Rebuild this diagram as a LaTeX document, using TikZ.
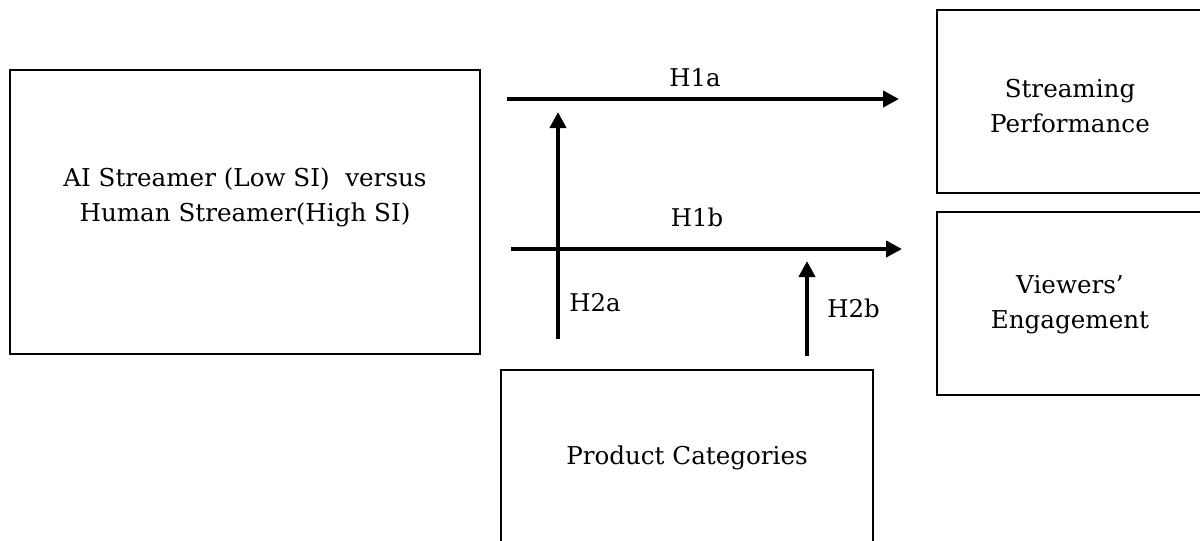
\documentclass[tikz,border=0pt]{standalone}
\usepackage{fontspec}
\setmainfont{DejaVu Serif}
\usetikzlibrary{arrows.meta}
\tikzset{
  box/.style={draw=black, line width=1pt, inner sep=0pt},
  txt/.style={align=center, font=\fontsize{12.3}{17.5}\selectfont, inner sep=0pt},
  lbl/.style={font=\fontsize{12.2}{13}\selectfont, inner sep=0pt},
  arr/.style={line width=2pt, -{Triangle[length=8pt,width=8pt]}},
}
\begin{document}
\begin{tikzpicture}[x=0.5pt,y=-0.5pt]
\useasboundingbox[fill=white] (0,0) rectangle (1200,541);
% boxes
\node[box, minimum width=235pt, minimum height=142pt] (ai) at (245,212) {};
\node[box, minimum width=136.5pt, minimum height=91.5pt] (sp) at (1073.5,101.5) {};
\node[box, minimum width=136.5pt, minimum height=91.5pt] (ve) at (1073.5,303.5) {};
\node[box, minimum width=186pt, minimum height=88pt] (pc) at (687,458) {};
% texts
\node[txt] (aitxt) at (245,197.5) {AI Streamer (Low SI)\ \ versus\\Human Streamer(High SI)};
\node[txt] (sptxt) at (1070,106) {Streaming\\Performance};
\node[txt] (vetxt) at (1070,304.5) {Viewers'\\Engagement};
\node[txt] (pctxt) at (687,458) {Product Categories};
% arrow endpoints
\coordinate (a1s) at (507,99);
\coordinate (a1e) at (899,99);
\coordinate (b1s) at (511,249);
\coordinate (b1e) at (902,249);
\coordinate (c2s) at (558,339);
\coordinate (c2e) at (558,112);
\coordinate (d2s) at (807,356);
\coordinate (d2e) at (807,261);
\draw[arr] (a1s) -- (a1e);
\draw[arr] (b1s) -- (b1e);
\draw[arr] (c2s) -- (c2e);
\draw[arr] (d2s) -- (d2e);
% labels
\node[lbl] (h1a) at (695,78) {H1a};
\node[lbl] (h1b) at (697,217) {H1b};
\node[lbl, anchor=west] (h2a) at (569,303) {H2a};
\node[lbl, anchor=west] (h2b) at (827,308) {H2b};
\end{tikzpicture}
\end{document}
